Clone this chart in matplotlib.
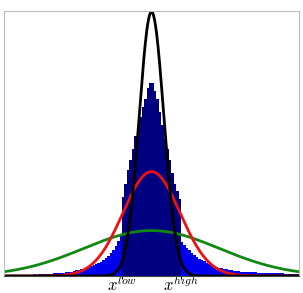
import numpy as np
import matplotlib
matplotlib.use("Agg")
import matplotlib.pyplot as plt

plt.rcParams['mathtext.fontset'] = 'cm'

# ---- data ----
x_min, x_max = -3.0, 3.0
bin_width = 0.05
x_low, x_high = -0.6, 0.6
tick_labels = [r'$x^{low}$', r'$x^{high}$']

# histogram heights (fraction of y range), 120 bins from -3 to 3
left_tail = [0.002, 0.002, 0.003, 0.002, 0.003, 0.003, 0.004, 0.003, 0.004, 0.005,
             0.004, 0.005, 0.006, 0.005, 0.006, 0.007, 0.007, 0.008, 0.008, 0.009,
             0.010, 0.010, 0.011, 0.012, 0.013, 0.014, 0.016, 0.017, 0.019, 0.021,
             0.023, 0.025, 0.028, 0.030, 0.033, 0.036, 0.040, 0.044, 0.049, 0.054,
             0.060, 0.068, 0.077, 0.087, 0.100, 0.115, 0.132, 0.150]
core = [0.30, 0.35, 0.40, 0.44, 0.48, 0.53, 0.57, 0.60, 0.64, 0.67, 0.71, 0.73,
        0.73, 0.70, 0.67, 0.62, 0.57, 0.52, 0.48, 0.44, 0.39, 0.35, 0.32, 0.29]
right_tail = [0.130, 0.118, 0.107, 0.097, 0.088, 0.080, 0.073, 0.066, 0.060, 0.055,
              0.050, 0.046, 0.042, 0.038, 0.035, 0.032, 0.029, 0.027, 0.025, 0.023,
              0.021, 0.020, 0.019, 0.018, 0.017, 0.016, 0.016, 0.015, 0.015, 0.014,
              0.014, 0.013, 0.013, 0.012, 0.013, 0.012, 0.011, 0.011, 0.011, 0.010,
              0.010, 0.010, 0.009, 0.009, 0.009, 0.008, 0.008, 0.008]

# Gaussian curves: (peak height, center, sigma, color)
black_curve = dict(peak=1.0, mu=0.0, sigma=0.25, color='black')
red_curve = dict(peak=0.395, mu=0.0, sigma=0.58, color='#ee1111')
green_curve = dict(peak=0.172, mu=0.0, sigma=1.38, color='#118811')

# ---- plot ----
fig = plt.figure(figsize=(3.03, 2.93), dpi=100)
ax = fig.add_axes([4/303, 1-276/293, 295/303, 265/293])

counts = np.array(left_tail + core + right_tail)
edges = x_min + bin_width*np.arange(len(counts))
centers = edges + bin_width/2
in_core = (centers > x_low) & (centers < x_high)
ax.bar(edges[~in_core], counts[~in_core], width=bin_width, align='edge',
       color='#0000ee', linewidth=0)
ax.bar(edges[in_core], counts[in_core], width=bin_width, align='edge',
       color='#000080', linewidth=0)

xs = np.linspace(x_min, x_max, 600)
for c in (green_curve, red_curve, black_curve):
    ys = c['peak']*np.exp(-0.5*((xs-c['mu'])/c['sigma'])**2)
    ax.plot(xs, ys, color=c['color'], lw=2)

ax.set_xlim(x_min, x_max)
ax.set_ylim(0, 1.003)
ax.set_yticks([])
ax.set_xticks([x_low, x_high])
ax.set_xticklabels(tick_labels, fontsize=12)
ax.tick_params(axis='x', length=2, pad=-2.5)
for s in ('top', 'left', 'right'):
    ax.spines[s].set_color('#bbbbbb')
    ax.spines[s].set_linewidth(0.8)
ax.spines['bottom'].set_color('#444444')
ax.spines['bottom'].set_linewidth(0.8)

fig.savefig('out.png', dpi=100)
